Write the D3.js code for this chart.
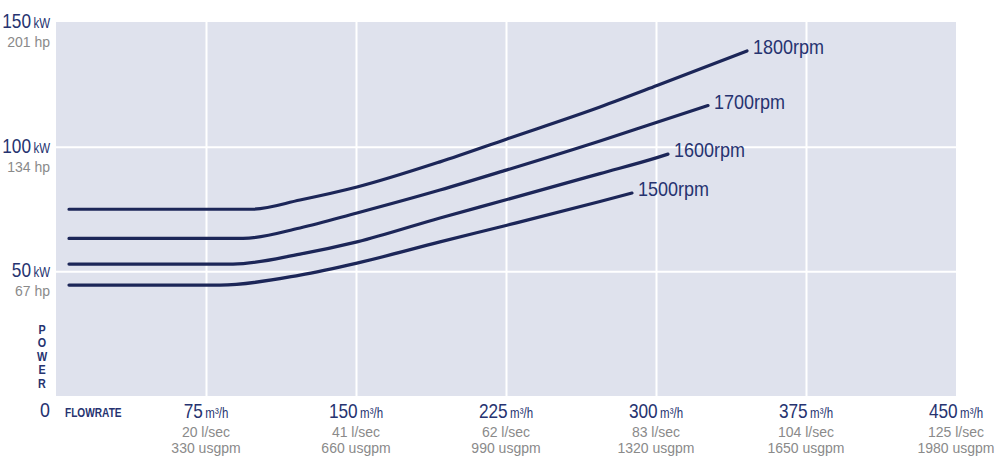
<!DOCTYPE html>
<html>
<head>
<meta charset="utf-8">
<script src="https://cdn.jsdelivr.net/npm/d3@7"></script>
<style>
  body { margin: 0; background: #fff; }
  svg { display: block; font-family: "Liberation Sans", Arial, sans-serif; }
</style>
</head>
<body>
<svg id="chart" width="997" height="462"></svg>
<script>
// flow (m3/h) and power (kW)
const rpm1800 = [[6.5, 74.9], [98, 74.9], [122, 78.6], [150.5, 83.8], [192, 93.9], [225.5, 103.1], [272, 115.9], [300.5, 124.5], [345.5, 138.4]];
const rpm1700 = [[6.5, 63.2], [93.5, 63.2], [122, 67.4], [150.5, 73.4], [192, 82.6], [225.5, 90.7], [272, 102.3], [300.5, 109.8], [326, 116.5]];
const rpm1600 = [[6.5, 52.9], [88.5, 52.9], [122, 56.9], [150.5, 61.8], [192, 71.4], [225.5, 78.8], [272, 89.2], [300.5, 95.6], [306, 97]];
const rpm1500 = [[6.5, 44.5], [82, 44.5], [122, 48.5], [150.5, 53.3], [192, 61.8], [225.5, 68.5], [272, 78], [288, 81.4]];
const seriesNames = ["1800rpm", "1700rpm", "1600rpm", "1500rpm"];

const flowTicks = [75, 150, 225, 300, 375, 450];
const lsecLabels = ["20 l/sec", "41 l/sec", "62 l/sec", "83 l/sec", "104 l/sec", "125 l/sec"];
const usgpmLabels = ["330 usgpm", "660 usgpm", "990 usgpm", "1320 usgpm", "1650 usgpm", "1980 usgpm"];
const powerTicks = [50, 100, 150];
const hpLabels = ["67 hp", "134 hp", "201 hp"];

const navy = "#263370";
const lineColor = "#1c2658";
const grey = "#8a8a8a";

const svg = d3.select("#chart");
const x = d3.scaleLinear().domain([0, 450]).range([56, 956]);
const y = d3.scaleLinear().domain([0, 150]).range([396, 22]);

// the original uses a narrow face, squeeze Liberation Sans to match
function label(sel, px, py, sx) {
  return sel.append("g")
    .attr("transform", `translate(${px},${py}) scale(${sx},1)`)
    .append("text");
}

// plot background
svg.append("rect")
  .attr("x", x(0)).attr("y", y(150))
  .attr("width", x(450) - x(0)).attr("height", y(0) - y(150))
  .attr("fill", "#dfe2ed");

// grid
svg.append("g")
  .attr("transform", `translate(0,${y(0)})`)
  .call(d3.axisBottom(x).tickValues(flowTicks.slice(0, -1)).tickSize(-(y(0) - y(150))).tickFormat(""))
  .call(g => g.select(".domain").remove())
  .call(g => g.selectAll("line").attr("stroke", "#fff").attr("stroke-width", 2));

svg.append("g")
  .attr("transform", `translate(${x(0)},0)`)
  .call(d3.axisLeft(y).tickValues(powerTicks.slice(0, -1)).tickSize(-(x(450) - x(0))).tickFormat(""))
  .call(g => g.select(".domain").remove())
  .call(g => g.selectAll("line").attr("stroke", "#fff").attr("stroke-width", 2));

// curves
const line = d3.line().x(d => x(d[0])).y(d => y(d[1])).curve(d3.curveMonotoneX);
const allSeries = [rpm1800, rpm1700, rpm1600, rpm1500];

svg.append("g").selectAll("path")
  .data(allSeries)
  .join("path")
  .attr("d", line)
  .attr("fill", "none")
  .attr("stroke", lineColor)
  .attr("stroke-width", 3.2)
  .attr("stroke-linecap", "round");

allSeries.forEach((s, i) => {
  const last = s[s.length - 1];
  label(svg, x(last[0]) + 6, y(last[1]) + 3, 0.9)
    .attr("fill", navy)
    .attr("font-size", 20)
    .text(seriesNames[i]);
});

// y labels
powerTicks.forEach((d, i) => {
  label(svg, 50, y(d) + 6, 0.82)
    .attr("text-anchor", "end")
    .attr("fill", navy)
    .call(t => t.append("tspan").attr("font-size", 21).text(d))
    .call(t => t.append("tspan").attr("font-size", 14).attr("dx", 3).text("kW"));
  label(svg, 50, y(d) + 25, 1)
    .attr("text-anchor", "end")
    .attr("fill", grey)
    .attr("font-size", 14)
    .text(hpLabels[i]);
});

// POWER, stacked letters in one text
label(svg, 42, 334, 0.9)
  .attr("text-anchor", "middle")
  .attr("fill", navy)
  .attr("font-size", 12)
  .attr("font-weight", "bold")
  .selectAll("tspan")
  .data("POWER".split(""))
  .join("tspan")
  .attr("x", 0)
  .attr("dy", (d, i) => i ? 13.5 : 0)
  .text(d => d);

label(svg, 45, 417, 0.85)
  .attr("text-anchor", "middle")
  .attr("fill", navy)
  .attr("font-size", 21)
  .text("0");

label(svg, 65, 417, 0.78)
  .attr("fill", navy)
  .attr("font-size", 13)
  .attr("font-weight", "bold")
  .text("FLOWRATE");

// x labels
flowTicks.forEach((d, i) => {
  label(svg, x(d), 418, 0.82)
    .attr("text-anchor", "middle")
    .attr("fill", navy)
    .call(t => t.append("tspan").attr("font-size", 21).text(d))
    .call(t => t.append("tspan").attr("font-size", 14).attr("dx", 3).text("m³/h"));
  label(svg, x(d), 436.5, 1)
    .attr("text-anchor", "middle")
    .attr("fill", grey)
    .attr("font-size", 14)
    .text(lsecLabels[i]);
  label(svg, x(d), 453, 1)
    .attr("text-anchor", "middle")
    .attr("fill", grey)
    .attr("font-size", 14)
    .text(usgpmLabels[i]);
});
</script>
</body>
</html>
